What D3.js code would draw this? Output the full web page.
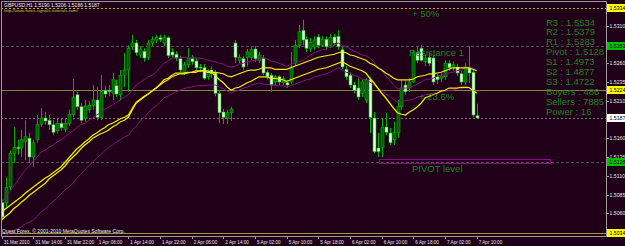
<!DOCTYPE html>
<html>
<head>
<meta charset="utf-8">
<script src="https://cdn.jsdelivr.net/npm/d3@7/dist/d3.min.js"></script>
<style>
  html, body { margin: 0; padding: 0; background: #200018; overflow: hidden; }
  svg { display: block; }
  text { font-family: "Liberation Sans", Arial, sans-serif; }
</style>
</head>
<body>
<svg id="chart" width="625" height="246"></svg>
<script>
// ── Chart texts ──
const symbolInfo = "GBPUSD,H1  1.5190 1.5206 1.5186 1.5187";
const siteUrl = "http://www.forex-signals-tutorials.com/";
const copyright = "Quest Forex, \u00a9 2001-2010 MetaQuotes Software Corp.";

// one label every 8 bars
const timeLabels = ["31 Mar 2010", "31 Mar 14:00", "31 Mar 22:00", "1 Apr 06:00", "1 Apr 14:00",
  "1 Apr 22:00", "2 Apr 06:00", "2 Apr 14:00", "5 Apr 02:00", "5 Apr 10:00", "5 Apr 18:00",
  "6 Apr 02:00", "6 Apr 10:00", "6 Apr 18:00", "7 Apr 02:00", "7 Apr 10:00"];

// ── H1 candles ──
const opens = [1.5074,1.5074,1.5095,1.5140,1.5148,1.5147,1.5156,1.5160,1.5135,1.5158,
  1.5179,1.5187,1.5184,1.5178,1.5170,1.5180,1.5172,1.5180,1.5192,1.5218,
  1.5202,1.5186,1.5198,1.5204,1.5211,1.5188,1.5224,1.5224,1.5220,1.5230,
  1.5218,1.5244,1.5251,1.5282,1.5287,1.5271,1.5276,1.5268,1.5287,1.5291,
  1.5294,1.5287,1.5294,1.5275,1.5272,1.5266,1.5248,1.5258,1.5266,1.5263,
  1.5255,1.5254,1.5242,1.5251,1.5247,1.5220,1.5195,1.5187,1.5194,1.5287,
  1.5264,1.5266,1.5268,1.5268,1.5279,1.5264,1.5267,1.5248,1.5244,1.5235,
  1.5242,1.5234,1.5234,1.5235,1.5260,1.5284,1.5304,1.5292,1.5280,1.5283,
  1.5295,1.5284,1.5292,1.5284,1.5295,1.5296,1.5278,1.5252,1.5244,1.5231,
  1.5227,1.5220,1.5211,1.5238,1.5187,1.5147,1.5148,1.5175,1.5167,1.5158,
  1.5168,1.5202,1.5231,1.5227,1.5235,1.5274,1.5280,1.5262,1.5268,1.5267,
  1.5242,1.5240,1.5242,1.5260,1.5254,1.5255,1.5246,1.5235,1.5254,1.5248,
  1.5190];
const highs = [1.5078,1.5108,1.5144,1.5175,1.5158,1.5171,1.5184,1.5167,1.5158,1.5191,
  1.5200,1.5195,1.5191,1.5184,1.5187,1.5186,1.5187,1.5198,1.5239,1.5222,
  1.5207,1.5211,1.5210,1.5231,1.5228,1.5244,1.5230,1.5231,1.5247,1.5238,
  1.5251,1.5274,1.5284,1.5298,1.5291,1.5283,1.5280,1.5291,1.5296,1.5298,
  1.5298,1.5298,1.5296,1.5280,1.5276,1.5270,1.5262,1.5280,1.5271,1.5267,
  1.5259,1.5259,1.5252,1.5256,1.5251,1.5224,1.5199,1.5198,1.5202,1.5291,
  1.5272,1.5270,1.5279,1.5282,1.5283,1.5275,1.5271,1.5251,1.5247,1.5244,
  1.5244,1.5243,1.5236,1.5275,1.5291,1.5311,1.5318,1.5296,1.5294,1.5296,
  1.5299,1.5296,1.5296,1.5299,1.5299,1.5304,1.5282,1.5256,1.5248,1.5235,
  1.5240,1.5238,1.5240,1.5242,1.5195,1.5167,1.5187,1.5194,1.5174,1.5182,
  1.5211,1.5238,1.5238,1.5240,1.5278,1.5282,1.5284,1.5271,1.5274,1.5271,
  1.5246,1.5247,1.5264,1.5264,1.5262,1.5259,1.5250,1.5260,1.5283,1.5251,
  1.5206];
const lows = [1.5051,1.5068,1.5091,1.5127,1.5138,1.5135,1.5131,1.5127,1.5122,1.5154,
  1.5175,1.5178,1.5171,1.5164,1.5166,1.5170,1.5168,1.5176,1.5188,1.5198,
  1.5180,1.5182,1.5194,1.5198,1.5184,1.5184,1.5214,1.5216,1.5211,1.5215,
  1.5211,1.5228,1.5222,1.5278,1.5270,1.5267,1.5262,1.5264,1.5283,1.5287,
  1.5288,1.5283,1.5267,1.5267,1.5263,1.5248,1.5244,1.5254,1.5258,1.5250,
  1.5248,1.5238,1.5238,1.5240,1.5216,1.5180,1.5179,1.5179,1.5183,1.5260,
  1.5260,1.5251,1.5256,1.5264,1.5262,1.5260,1.5244,1.5238,1.5222,1.5230,
  1.5231,1.5230,1.5227,1.5232,1.5256,1.5280,1.5284,1.5275,1.5275,1.5278,
  1.5280,1.5282,1.5278,1.5280,1.5283,1.5278,1.5252,1.5238,1.5227,1.5220,
  1.5211,1.5215,1.5207,1.5167,1.5140,1.5135,1.5135,1.5164,1.5151,1.5151,
  1.5160,1.5198,1.5218,1.5222,1.5234,1.5260,1.5262,1.5256,1.5256,1.5231,
  1.5232,1.5235,1.5238,1.5250,1.5250,1.5243,1.5231,1.5231,1.5234,1.5188,
  1.5186];
const closes = [1.5055,1.5094,1.5140,1.5148,1.5146,1.5158,1.5162,1.5135,1.5154,1.5178,
  1.5187,1.5183,1.5178,1.5168,1.5180,1.5174,1.5180,1.5192,1.5215,1.5202,
  1.5184,1.5203,1.5204,1.5211,1.5188,1.5222,1.5219,1.5222,1.5238,1.5219,
  1.5244,1.5251,1.5280,1.5287,1.5274,1.5278,1.5267,1.5287,1.5292,1.5294,
  1.5292,1.5294,1.5270,1.5271,1.5267,1.5251,1.5258,1.5267,1.5262,1.5254,
  1.5254,1.5240,1.5248,1.5246,1.5220,1.5194,1.5188,1.5194,1.5199,1.5268,
  1.5268,1.5255,1.5275,1.5278,1.5266,1.5271,1.5247,1.5242,1.5231,1.5242,
  1.5235,1.5240,1.5231,1.5255,1.5284,1.5302,1.5291,1.5280,1.5288,1.5291,
  1.5284,1.5292,1.5282,1.5294,1.5287,1.5282,1.5255,1.5242,1.5231,1.5224,
  1.5215,1.5235,1.5238,1.5188,1.5142,1.5142,1.5174,1.5168,1.5154,1.5168,
  1.5202,1.5227,1.5222,1.5235,1.5274,1.5264,1.5264,1.5267,1.5260,1.5235,
  1.5238,1.5243,1.5260,1.5254,1.5258,1.5247,1.5235,1.5255,1.5247,1.5191,
  1.5187];

// ── Indicator lines, one value per bar ──
const maHigh = [1.5062,1.5066,1.5070,1.5074,1.5078,1.5082,1.5087,1.5091,1.5095,1.5099,
  1.5103,1.5107,1.5110,1.5114,1.5118,1.5122,1.5128,1.5134,1.5140,1.5146,
  1.5150,1.5155,1.5159,1.5164,1.5167,1.5171,1.5174,1.5178,1.5180,1.5183,
  1.5186,1.5188,1.5191,1.5200,1.5208,1.5212,1.5216,1.5219,1.5223,1.5227,
  1.5232,1.5238,1.5240,1.5244,1.5247,1.5247,1.5247,1.5248,1.5248,1.5250,
  1.5250,1.5250,1.5250,1.5248,1.5248,1.5247,1.5246,1.5243,1.5242,1.5244,
  1.5246,1.5248,1.5250,1.5251,1.5251,1.5252,1.5254,1.5254,1.5254,1.5252,
  1.5252,1.5252,1.5252,1.5254,1.5256,1.5258,1.5260,1.5262,1.5264,1.5266,
  1.5268,1.5269,1.5270,1.5271,1.5272,1.5274,1.5275,1.5274,1.5271,1.5270,
  1.5268,1.5266,1.5264,1.5260,1.5258,1.5254,1.5251,1.5247,1.5244,1.5240,
  1.5238,1.5238,1.5238,1.5238,1.5239,1.5242,1.5243,1.5244,1.5246,1.5246,
  1.5247,1.5248,1.5250,1.5252,1.5254,1.5254,1.5254,1.5254,1.5254,1.5252,
  1.5250];
const maLow = [1.5051,1.5056,1.5060,1.5066,1.5070,1.5075,1.5079,1.5084,1.5088,1.5092,
  1.5096,1.5100,1.5106,1.5110,1.5114,1.5118,1.5123,1.5130,1.5135,1.5140,
  1.5146,1.5151,1.5155,1.5160,1.5163,1.5166,1.5168,1.5171,1.5175,1.5178,
  1.5182,1.5184,1.5188,1.5198,1.5207,1.5211,1.5215,1.5219,1.5223,1.5227,
  1.5231,1.5235,1.5238,1.5242,1.5244,1.5246,1.5246,1.5247,1.5248,1.5248,
  1.5250,1.5250,1.5248,1.5248,1.5243,1.5238,1.5234,1.5228,1.5224,1.5227,
  1.5228,1.5231,1.5234,1.5236,1.5239,1.5242,1.5242,1.5242,1.5240,1.5240,
  1.5239,1.5238,1.5236,1.5238,1.5240,1.5242,1.5244,1.5246,1.5248,1.5250,
  1.5252,1.5253,1.5254,1.5256,1.5258,1.5260,1.5262,1.5259,1.5256,1.5254,
  1.5252,1.5250,1.5247,1.5240,1.5234,1.5227,1.5220,1.5214,1.5207,1.5200,
  1.5194,1.5192,1.5191,1.5195,1.5198,1.5202,1.5207,1.5214,1.5216,1.5218,
  1.5220,1.5223,1.5224,1.5227,1.5227,1.5227,1.5228,1.5228,1.5228,1.5224,
  1.5220];
const bandUpper = [1.5074,1.5082,1.5088,1.5096,1.5103,1.5111,1.5118,1.5123,1.5130,1.5135,
  1.5142,1.5144,1.5148,1.5151,1.5155,1.5158,1.5162,1.5166,1.5170,1.5174,
  1.5178,1.5180,1.5184,1.5187,1.5191,1.5194,1.5198,1.5202,1.5204,1.5208,
  1.5211,1.5215,1.5218,1.5224,1.5231,1.5235,1.5238,1.5242,1.5244,1.5248,
  1.5254,1.5260,1.5263,1.5267,1.5267,1.5267,1.5268,1.5268,1.5268,1.5267,
  1.5267,1.5266,1.5264,1.5263,1.5262,1.5260,1.5259,1.5256,1.5255,1.5256,
  1.5259,1.5260,1.5262,1.5263,1.5264,1.5266,1.5267,1.5266,1.5263,1.5262,
  1.5260,1.5258,1.5256,1.5258,1.5260,1.5262,1.5264,1.5267,1.5271,1.5274,
  1.5276,1.5278,1.5279,1.5282,1.5284,1.5287,1.5284,1.5282,1.5279,1.5276,
  1.5274,1.5271,1.5270,1.5267,1.5262,1.5255,1.5250,1.5243,1.5238,1.5231,
  1.5226,1.5226,1.5227,1.5227,1.5230,1.5232,1.5235,1.5238,1.5239,1.5240,
  1.5243,1.5244,1.5246,1.5247,1.5248,1.5250,1.5251,1.5254,1.5255,1.5254,
  1.5251];
const bandLower = [1.5024,1.5030,1.5034,1.5036,1.5039,1.5042,1.5046,1.5048,1.5051,1.5056,
  1.5062,1.5066,1.5071,1.5076,1.5080,1.5086,1.5091,1.5095,1.5100,1.5107,
  1.5112,1.5118,1.5123,1.5128,1.5134,1.5138,1.5143,1.5148,1.5151,1.5155,
  1.5158,1.5162,1.5164,1.5171,1.5176,1.5183,1.5188,1.5194,1.5199,1.5203,
  1.5208,1.5214,1.5216,1.5219,1.5222,1.5224,1.5226,1.5228,1.5228,1.5230,
  1.5230,1.5230,1.5231,1.5231,1.5231,1.5228,1.5226,1.5223,1.5220,1.5223,
  1.5224,1.5227,1.5228,1.5231,1.5232,1.5234,1.5232,1.5232,1.5231,1.5231,
  1.5230,1.5230,1.5228,1.5230,1.5232,1.5234,1.5236,1.5238,1.5239,1.5242,
  1.5243,1.5245,1.5246,1.5248,1.5251,1.5254,1.5251,1.5248,1.5247,1.5244,
  1.5242,1.5239,1.5238,1.5235,1.5231,1.5227,1.5223,1.5219,1.5216,1.5212,
  1.5208,1.5210,1.5210,1.5211,1.5212,1.5215,1.5216,1.5218,1.5219,1.5220,
  1.5220,1.5222,1.5223,1.5224,1.5224,1.5226,1.5226,1.5227,1.5227,1.5224,
  1.5222];

// ── Price axis and drawn objects ──
const priceTicks = [1.5310, 1.5285, 1.5260, 1.5235, 1.5210, 1.5185, 1.5160, 1.5135, 1.5110, 1.5085, 1.5060, 1.5035];
const levelPrices = [1.5334, 1.5283, 1.5224, 1.5187, 1.5128, 1.5034];
const levelNames = ["+ 50%", "Resistance 1", "+ 23.6%", "", "PIVOT level", ""];
const pivotZone = [1.5132, 1.5127];
const pivotStats = ["R3 : 1.5534", "R2 : 1.5379", "R1 : 1.5283", "Pivot : 1.5128", "S1 : 1.4973",
  "S2 : 1.4877", "S3 : 1.4722", "Buyers : 486", "Sellers : 7885", "Power : 16"];

// ─────────────────────────────────────────────
const W = 625, H = 246;
const frame = { left: 1, top: 1, right: 606, bottom: 236 };
const n = opens.length;

const x = d3.scaleLinear().domain([0, 120]).range([1.7, 476.7]);
const y = d3.scaleLinear().domain([1.5310, 1.5060]).range([25.75, 213.25]);
const crisp = v => Math.round(v) + 0.5;

const svg = d3.select("#chart");
svg.append("rect").attr("width", W).attr("height", H).attr("fill", "#200018");

svg.append("clipPath").attr("id", "plotClip")
  .append("rect")
  .attr("x", frame.left).attr("y", frame.top)
  .attr("width", frame.right - frame.left).attr("height", frame.bottom - frame.top);

const plot = svg.append("g").attr("clip-path", "url(#plotClip)");

// ── Horizontal levels ──
const levelStyle = [
  { stroke: "#b8b800", dash: "2,2", box: "#ffff00" },
  { stroke: "#4e4e4e", dash: "3,2", box: "#00c000" },
  { stroke: "#84843a", dash: null,  box: "#ffff00" },
  { stroke: "#7a7a7a", dash: "2,2", box: "#ffffff" },
  { stroke: "#4e4e4e", dash: "3,2", box: "#00c000" },
  { stroke: "#9a9a30", dash: null,  box: "#ffff00" },
];
const levels = levelPrices.map((p, k) => ({ p, name: levelNames[k], st: levelStyle[k] }));

plot.selectAll("line.level").data(levels).join("line")
  .attr("class", "level")
  .attr("x1", frame.left).attr("x2", frame.right)
  .attr("y1", d => crisp(y(d.p))).attr("y2", d => crisp(y(d.p)))
  .attr("stroke", d => d.st.stroke)
  .attr("stroke-dasharray", d => d.st.dash);

// pivot zone rectangle
plot.append("rect")
  .attr("x", crisp(x(95.3))).attr("y", crisp(y(pivotZone[0])))
  .attr("width", 171).attr("height", Math.round(y(pivotZone[1]) - y(pivotZone[0])))
  .attr("fill", "none").attr("stroke", "#900090");

// ── Candles ──
const bars = d3.range(n).map(i => ({ i, o: opens[i], h: highs[i], l: lows[i], c: closes[i] }));

plot.selectAll("line.wick").data(bars).join("line")
  .attr("class", "wick")
  .attr("x1", d => crisp(x(d.i))).attr("x2", d => crisp(x(d.i)))
  .attr("y1", d => y(d.h)).attr("y2", d => y(d.l))
  .attr("stroke", "#00b000");

plot.selectAll("rect.body").data(bars).join("rect")
  .attr("class", "body")
  .attr("x", d => Math.round(x(d.i)) - 1)
  .attr("width", 3)
  .attr("y", d => y(Math.max(d.o, d.c)))
  .attr("height", d => Math.max(1, Math.abs(y(d.o) - y(d.c))))
  .attr("fill", d => d.c > d.o ? "#005a00" : "#e6ffe6")
  .attr("stroke", "#00c000").attr("stroke-width", 0.6);

// ── Indicator lines ──
const line = d3.line().x((d, i) => x(i)).y(d => y(d));
[[bandUpper, "#86107e", 1], [bandLower, "#86107e", 1], [maHigh, "#eeee00", 1.25], [maLow, "#eeee00", 1.25]]
  .forEach(([vals, col, w]) => {
    plot.append("path").datum(vals)
      .attr("d", line).attr("fill", "none")
      .attr("stroke", col).attr("stroke-width", w);
  });

// ── Object texts ──
const green = "#1c861c";
const labelX = [412, 409, 419, null, 412, null];
const named = levels.map((d, k) => ({ ...d, lx: labelX[k] })).filter(d => d.lx !== null);
plot.selectAll("text.levelName").data(named).join("text")
  .attr("class", "levelName")
  .attr("x", d => d.lx)
  .attr("y", d => y(d.p) + 9.5)
  .attr("fill", green).attr("font-size", 9.5)
  .text(d => d.name);

svg.selectAll("text.stat").data(pivotStats).join("text")
  .attr("class", "stat")
  .attr("x", 546).attr("y", (d, k) => 25.5 + k * 9.9)
  .attr("fill", green).attr("font-size", 9.5)
  .text(d => d);

// ── Frame ──
svg.append("path")
  .attr("d", `M${frame.left + 0.5},${frame.bottom + 0.5}V${frame.top + 0.5}H${frame.right + 0.5}V${frame.bottom + 0.5}H${frame.left + 0.5}`)
  .attr("fill", "none").attr("stroke", "#9a9a9a");

// ── Price axis ──
const axisG = svg.append("g");
axisG.selectAll("line").data(priceTicks).join("line")
  .attr("x1", frame.right + 0.5).attr("x2", frame.right + 3)
  .attr("y1", d => crisp(y(d))).attr("y2", d => crisp(y(d)))
  .attr("stroke", "#9a9a9a");
axisG.selectAll("text").data(priceTicks).join("text")
  .attr("x", 609.5).attr("y", d => y(d) + 2)
  .attr("fill", "#e8e8e8").attr("font-size", 5.2)
  .text(d => d.toFixed(4));

// level price boxes
const boxes = svg.append("g");
boxes.selectAll("rect").data(levels).join("rect")
  .attr("x", 607).attr("y", d => Math.round(y(d.p)) - 4)
  .attr("width", 18).attr("height", 8)
  .attr("fill", d => d.st.box);
boxes.selectAll("text").data(levels).join("text")
  .attr("x", 609.5).attr("y", d => y(d.p) + 2)
  .attr("fill", "#000").attr("font-size", 5.2)
  .text(d => d.p.toFixed(4));

// ── Time axis ──
const timeG = svg.append("g");
timeG.selectAll("line").data(timeLabels).join("line")
  .attr("x1", (d, k) => crisp(x(k * 8))).attr("x2", (d, k) => crisp(x(k * 8)))
  .attr("y1", frame.bottom + 0.5).attr("y2", frame.bottom + 3)
  .attr("stroke", "#9a9a9a");
timeG.selectAll("text").data(timeLabels).join("text")
  .attr("x", (d, k) => x(k * 8) + 2).attr("y", 243.5)
  .attr("fill", "#e8e8e8").attr("font-size", 4.6)
  .text(d => d);

// ── Header / footer texts ──
svg.append("text").attr("x", 4).attr("y", 7).attr("fill", "#f0f0f0").attr("font-size", 5).text(symbolInfo);
svg.append("text").attr("x", 4).attr("y", 12).attr("fill", "#c8c840").attr("font-size", 4.4).text(siteUrl);
svg.append("text").attr("x", 2).attr("y", 233).attr("fill", "#f0f0f0").attr("font-size", 5).text(copyright);
</script>
</body>
</html>
